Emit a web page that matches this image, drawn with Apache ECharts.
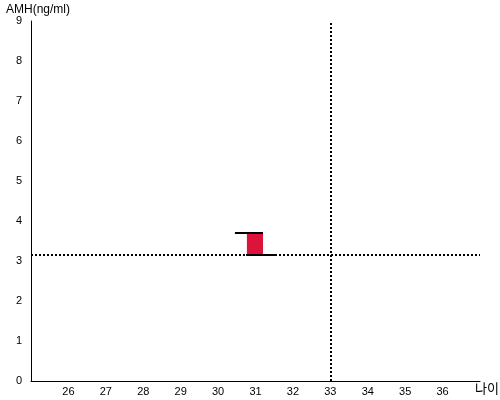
<!DOCTYPE html>
<html><head><meta charset="utf-8">
<script src="https://cdn.jsdelivr.net/npm/echarts@6/dist/echarts.min.js"></script>
<style>html,body{margin:0;padding:0;background:#fff}#c{width:500px;height:400px}</style>
</head><body><div id="c"></div>
<script>
// axis ranges and ticks
const ageTicks = [25,26,27,28,29,30,31,32,33,34,35,36,37];
const amhTicks = [0,1,2,3,4,5,6,7,8,9];
// measured box: [ageStart, ageEnd, amhLow, amhHigh]
const boxAge = [30.77, 31.2];
const boxAMH = [3.15, 3.7];
// black edge lines: [ageStart, ageEnd, amh]
const topEdge = [30.45, 31.2, 3.7];
const bottomEdge = [30.75, 31.55, 3.15];
// reference lines
const refAMH = 3.15;
const refAge = 33;

const chart = echarts.init(document.getElementById('c'), null, {renderer:'canvas'});
const fontDigits = 'Liberation Sans';
chart.setOption({
  animation:false,
  grid:{left:31, top:21, right:20, bottom:19, containLabel:false, outerBoundsMode:'none'},
  xAxis:{
    type:'value', min:ageTicks[0], max:ageTicks[ageTicks.length-1], interval:1,
    name:'나이', nameLocation:'end', nameGap:-5,
    nameTextStyle:{fontFamily:'Noto Sans CJK KR', fontSize:13, color:'#000', align:'left', verticalAlign:'top', padding:[1,0,0,0]},
    axisLine:{lineStyle:{color:'#000', width:1}}, axisTick:{show:false}, splitLine:{show:false},
    axisLabel:{showMinLabel:false, showMaxLabel:false, color:'#000', fontFamily:fontDigits, fontSize:11, margin:5}
  },
  yAxis:{
    type:'value', min:amhTicks[0], max:amhTicks[amhTicks.length-1], interval:1,
    name:'AMH(ng/ml)', nameLocation:'end', nameGap:3,
    nameTextStyle:{fontFamily:fontDigits, fontSize:12, color:'#000', align:'left', padding:[0,0,0,-25]},
    axisLine:{show:true, lineStyle:{color:'#000', width:1}}, axisTick:{show:false}, splitLine:{show:false},
    axisLabel:{color:'#000', fontFamily:fontDigits, fontSize:11, margin:9}
  },
  series:[
    {
      type:'custom',
      data:[[boxAge[0], boxAge[1], boxAMH[0], boxAMH[1], topEdge[0], topEdge[1], topEdge[2], bottomEdge[0], bottomEdge[1], bottomEdge[2]]],
      encode:{x:[0,1], y:[2,3]},
      renderItem:function(params, api){
        const p0 = api.coord([api.value(0), api.value(3)]);
        const p1 = api.coord([api.value(1), api.value(2)]);
        const t0 = api.coord([api.value(4), api.value(6)]);
        const t1 = api.coord([api.value(5), api.value(6)]);
        const b0 = api.coord([api.value(7), api.value(9)]);
        const b1 = api.coord([api.value(8), api.value(9)]);
        return {type:'group', children:[
          {type:'rect', shape:{x:p0[0], y:p0[1], width:p1[0]-p0[0], height:p1[1]-p0[1]}, style:{fill:'#DC143C'}},
          {type:'line', shape:{x1:t0[0], y1:t0[1], x2:t1[0], y2:t1[1]}, style:{stroke:'#000', lineWidth:2}},
          {type:'line', shape:{x1:b0[0], y1:b0[1], x2:b1[0], y2:b1[1]}, style:{stroke:'#000', lineWidth:2}}
        ]};
      },
      markLine:{
        silent:true, symbol:'none', label:{show:false},
        lineStyle:{color:'#000', width:2, type:[2,2]},
        data:[{yAxis:refAMH}, {xAxis:refAge}]
      },
      z:3
    }
  ]
});
</script></body></html>
